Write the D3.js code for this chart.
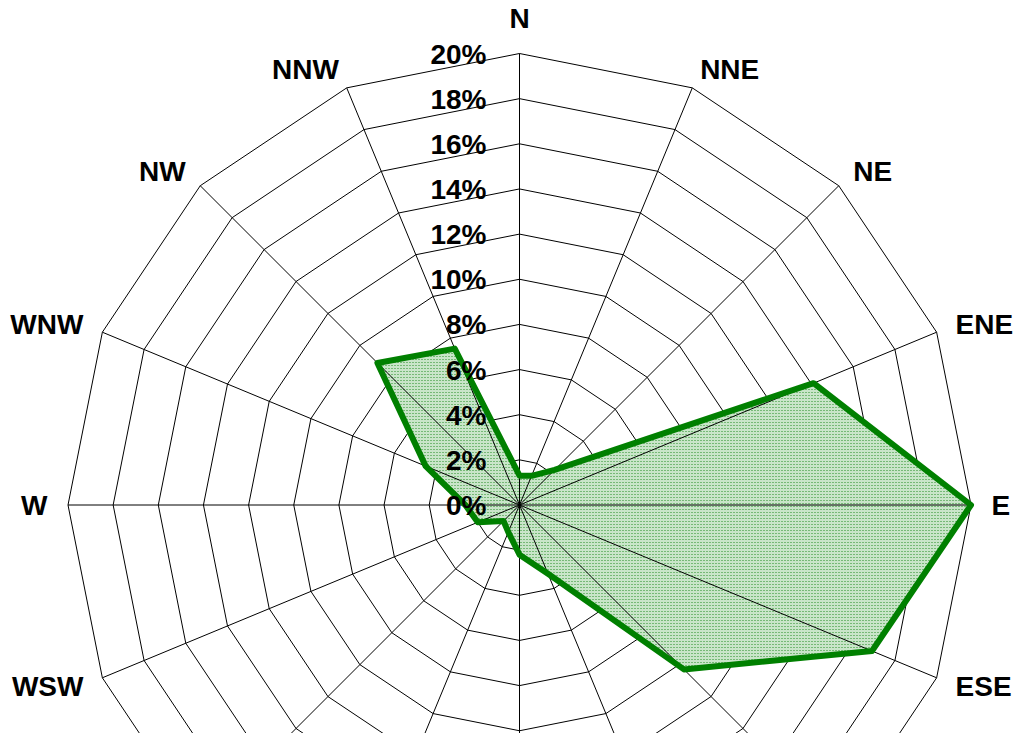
<!DOCTYPE html>
<html>
<head>
<meta charset="utf-8">
<script src="https://cdn.jsdelivr.net/npm/d3@7/dist/d3.min.js"></script>
<style>
  html, body { margin: 0; padding: 0; background: #ffffff; }
  svg { display: block; }
  text { font-family: "Liberation Sans", Arial, sans-serif; font-weight: bold; }
</style>
</head>
<body>
<svg id="chart" width="1019" height="733"></svg>
<script>
// ---- data ----
const directions = ["N","NNE","NE","ENE","E","ESE","SE","SSE","S","SSW","SW","WSW","W","WNW","NW","NNW"];
const frequency = [1.3, 1.4, 2.2, 14.1, 20.0, 16.9, 10.3, 3.3, 2.2, 1.3, 1.0, 2.0, 2.4, 4.5, 8.9, 7.5];
const ringTicks = [2, 4, 6, 8, 10, 12, 14, 16, 18, 20];
const tickLabels = ["0%","2%","4%","6%","8%","10%","12%","14%","16%","18%","20%"];
const tickValues = [0, 2, 4, 6, 8, 10, 12, 14, 16, 18, 20];

// ---- layout ----
const W = 1019, H = 733;
const cx = 519.5, cy = 505;
const R = 451.5;

const svg = d3.select("#chart");
const defs = svg.append("defs");
const pat = defs.append("pattern")
  .attr("id", "dots").attr("patternUnits", "userSpaceOnUse")
  .attr("width", 3).attr("height", 3);
pat.append("rect").attr("width", 3).attr("height", 3).attr("fill", "#c9e5c9");
pat.append("rect").attr("x", 1).attr("y", 1).attr("width", 1).attr("height", 1).attr("fill", "#248c24");

const r = d3.scaleLinear().domain([0, 20]).range([0, R]);
const angle = d3.scaleLinear().domain([0, directions.length]).range([0, 2 * Math.PI]);

const g = svg.append("g").attr("transform", `translate(${cx},${cy})`);

const radial = d3.lineRadial()
  .angle((d, i) => angle(i))
  .radius(d => r(d))
  .curve(d3.curveLinearClosed);

// rings (under the fill)
g.append("g").selectAll("path").data(ringTicks).join("path")
  .attr("d", t => radial(directions.map(() => t)))
  .attr("fill", "none").attr("stroke", "#000").attr("stroke-width", 1);

// fill area
g.append("path")
  .attr("d", radial(frequency))
  .attr("fill", "url(#dots)").attr("stroke", "none");

// spokes
g.append("g").selectAll("line").data(directions).join("line")
  .attr("x1", 0).attr("y1", 0)
  .attr("x2", (d, i) => r(20) * Math.sin(angle(i)))
  .attr("y2", (d, i) => -r(20) * Math.cos(angle(i)))
  .attr("stroke", "#000").attr("stroke-width", 1);

// outline
g.append("path")
  .attr("d", radial(frequency))
  .attr("fill", "none").attr("stroke", "#008000")
  .attr("stroke-width", 6).attr("stroke-linejoin", "round");

// value axis labels
g.append("g").selectAll("text").data(tickValues).join("text")
  .attr("x", -33)
  .attr("y", v => -r(v))
  .attr("dy", "0.36em")
  .attr("text-anchor", "end")
  .attr("font-size", 28)
  .attr("fill", "#000")
  .text((v, i) => tickLabels[i]);

// direction labels (only those that fall inside the visible frame)
const labR = 472;
const labels = directions.map((d, i) => {
  const a = angle(i);
  const s = Math.sin(a), c = Math.cos(a);
  let x = labR * s, y = -labR * c;
  let anchor = "middle";
  if (s > 0.01) anchor = "start";
  else if (s < -0.01) anchor = "end";
  if (Math.abs(s) < 0.01) y += (c > 0 ? -15 : 15);
  return { name: d, x, y, anchor };
}).filter(l => cy + l.y + 14 <= H);

g.append("g").selectAll("text").data(labels).join("text")
  .attr("font-size", 28)
  .attr("fill", "#000")
  .attr("x", l => l.x).attr("y", l => l.y)
  .attr("dy", "0.36em")
  .attr("text-anchor", l => l.anchor)
  .text(l => l.name);
</script>
</body>
</html>
